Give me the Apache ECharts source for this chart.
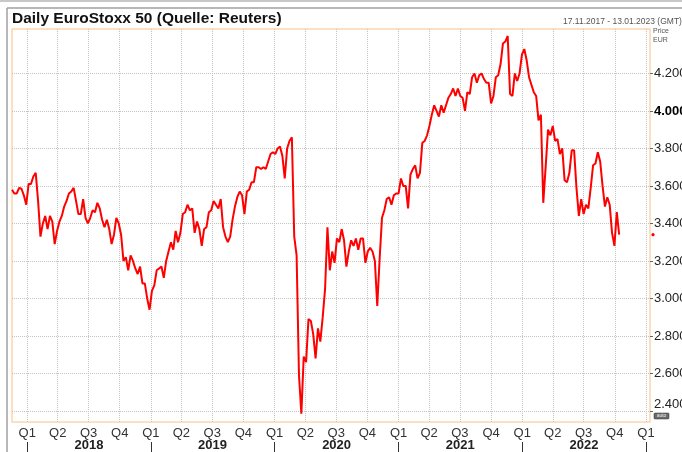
<!DOCTYPE html>
<html>
<head>
<meta charset="utf-8">
<script src="https://cdn.jsdelivr.net/npm/echarts@6/dist/echarts.min.js"></script>
<style>
  html, body { margin: 0; padding: 0; background: #fff; }
  #chart { width: 682px; height: 452px; }
</style>
</head>
<body>
<div id="chart"></div>
<script>
// weekly closes (Fridays), starting 17.11.2017
const v2017 = [3580, 3560, 3560, 3590, 3585, 3550, 3500]
const v2018 = [
    3610, 3610, 3650, 3670,         // jan
    3520, 3330, 3400, 3440,         // feb
    3370, 3440, 3410, 3290, 3360,   // mar
    3410, 3440, 3490, 3520,         // apr
    3560, 3570, 3590, 3520,         // may
    3450, 3450, 3530, 3430, 3400,   // jun
    3430, 3470, 3460, 3510,         // jul
    3480, 3420, 3380, 3420, 3370,   // aug
    3290, 3340, 3430, 3400,         // sep
    3340, 3200, 3220, 3150,         // oct
    3230, 3200, 3160, 3130, 3170,   // nov
    3080, 3080, 3000, 2940          // dec
]
const v2019 = [
    3040, 3070, 3150, 3160,
    3170, 3110, 3200, 3250,
    3300, 3260, 3360, 3300, 3350,
    3450, 3460, 3500, 3470,
    3480, 3350, 3410, 3370, 3280,
    3370, 3380, 3460, 3470,
    3520, 3500, 3480, 3530,
    3380, 3330, 3300, 3330, 3420,
    3490, 3540, 3570, 3550,
    3450, 3570, 3580, 3620,
    3620, 3700, 3700, 3690, 3700,
    3690, 3730, 3770, 3780
]
const v2020 = [
    3770, 3800, 3810, 3760, 3640,
    3800, 3840, 3860, 3330,
    3230, 2590, 2385, 2690,
    2660, 2890, 2880, 2810,
    2680, 2840, 2770, 2900, 3050,
    3380, 3150, 3250, 3190,
    3320, 3300, 3370, 3310, 3170,
    3250, 3310, 3280, 3320,
    3260, 3320, 3320, 3190,
    3250, 3270, 3250, 3200, 2960,
    3210, 3430, 3470, 3530,
    3540, 3500, 3550, 3560
]
const v2021 = [
    3560, 3640, 3600, 3600, 3480,
    3660, 3690, 3710, 3640,
    3670, 3830, 3840, 3870,
    3920, 3980, 4030, 4000, 3970,
    4030, 3990, 4030, 4070,
    4090, 4120, 4080, 4120,
    4080, 4070, 4000, 4100, 4090,
    4180, 4200, 4150, 4190,
    4200, 4170, 4150, 4150,
    4040, 4080, 4180, 4190, 4250,
    4360, 4370, 4400, 4090,
    4080, 4200, 4160, 4200, 4300
]
const v2022 = [
    4330, 4270, 4180, 4140,
    4100, 4080, 3950, 3980,
    3510, 3700, 3900, 3870,
    3920, 3840, 3850, 3770, 3800,
    3630, 3620, 3670, 3790,
    3790, 3590, 3440, 3530,
    3450, 3500, 3480, 3590, 3710,
    3720, 3780, 3730, 3600,
    3490, 3540, 3500, 3350, 3280,
    3460, 3340
]

const years = [2018, 2019, 2020, 2021, 2022]
const quarterNames = ["Q1", "Q2", "Q3", "Q4"]
const priceTicks = [2400, 2600, 2800, 3000, 3200, 3400, 3600, 3800, 4000, 4200]

const DAY = 24 * 3600 * 1000
const firstDay = Date.UTC(2017, 10, 17)
const lastDay = Date.UTC(2023, 0, 13)

const closes = [].concat(v2017, v2018, v2019, v2020, v2021, v2022)
const seriesData = closes.map((v, i) => [firstDay + i * 7 * DAY, v])

const quarterTicks = []
years.forEach(y => [0, 3, 6, 9].forEach(m => quarterTicks.push(Date.UTC(y, m, 1))))
quarterTicks.push(Date.UTC(2023, 0, 1))
const yearBounds = years.map(y => Date.UTC(y, 0, 1)).concat([Date.UTC(2023, 0, 1)])
const yearMids = years.map(y => Date.UTC(y, 6, 2))

const FONT = "'Liberation Sans', Arial, sans-serif"

const chart = echarts.init(document.getElementById("chart"))

chart.setOption({
    animation: false,
    backgroundColor: "#fff",
    title: {
        text: "Daily EuroStoxx 50 (Quelle: Reuters)",
        left: 7,
        top: 6,
        textStyle: { fontFamily: FONT, fontSize: 15.5, fontWeight: "bold", color: "#111" }
    },
    grid: {
        left: 12, right: 32, top: 29, bottom: 30,
        outerBoundsMode: "none",
        show: true, borderColor: "#fdd6ae", borderWidth: 1.5, backgroundColor: "#fff"
    },
    xAxis: [
        {
            // dates as plain timestamps on a value axis
            type: "value", min: firstDay, max: lastDay,
            axisLine: { show: false },
            axisTick: { show: false, customValues: quarterTicks },
            splitLine: { show: true, lineStyle: { type: "dotted", color: "#c4c4c4", width: 1 } },
            axisLabel: {
                customValues: quarterTicks,
                margin: 5,
                fontFamily: FONT, fontSize: 13, color: "#333",
                formatter: v => quarterNames[Math.floor(new Date(v).getUTCMonth() / 3)]
            }
        },
        {
            type: "value", min: firstDay, max: lastDay,
            position: "bottom", offset: 20,
            axisLine: { show: false },
            axisTick: { show: true, customValues: yearBounds, length: 12, lineStyle: { color: "#333", width: 1 } },
            splitLine: { show: false },
            axisLabel: {
                customValues: yearMids,
                margin: -3,
                fontFamily: FONT, fontSize: 13, fontWeight: "bold", color: "#222",
                formatter: v => String(new Date(v).getUTCFullYear())
            }
        }
    ],
    yAxis: {
        type: "value", position: "right",
        min: 2341, max: 4437,
        axisLine: { show: false },
        axisTick: { show: true, inside: false, length: 3, customValues: priceTicks, lineStyle: { color: "#666" } },
        splitLine: { show: true, lineStyle: { type: "dotted", color: "#c4c4c4", width: 1 } },
        axisLabel: {
            customValues: priceTicks,
            margin: 4,
            fontFamily: FONT, fontSize: 13, color: "#222",
            verticalAlignMinLabel: "bottom",
            formatter: v => {
                const s = (v / 1000).toFixed(3)
                return v === 4000 ? "{b|" + s + "}" : s
            },
            rich: { b: { fontFamily: FONT, fontSize: 13, fontWeight: "bold", color: "#000" } }
        }
    },
    series: [{
        type: "line",
        data: seriesData,
        showSymbol: false,
        lineStyle: { color: "#ff0000", width: 2 },
        itemStyle: { color: "#ff0000" }
    }]
})

// last price marker on the right edge, placed through the y scale
const lastY = chart.convertToPixel({ yAxisIndex: 0 }, closes[closes.length - 1])

chart.setOption({
    graphic: [
        { type: "rect", shape: { x: 0, y: 0, width: 682, height: 2 }, style: { fill: "#c8c8c8" } },
        { type: "line", shape: { x1: 7, y1: 8, x2: 682, y2: 8 }, style: { stroke: "#a0a0a0", lineWidth: 1.5 } },
        { type: "line", shape: { x1: 7, y1: 8, x2: 7, y2: 452 }, style: { stroke: "#a0a0a0", lineWidth: 1.5 } },
        { type: "text", x: 563, y: 22, style: { text: "17.11.2017 - 13.01.2023 (GMT)", font: "8.5px " + FONT, fill: "#555", verticalAlign: "middle" } },
        { type: "text", x: 653, y: 31, style: { text: "Price", font: "7px " + FONT, fill: "#555", verticalAlign: "middle" } },
        { type: "text", x: 653, y: 40, style: { text: "EUR", font: "7px " + FONT, fill: "#555", verticalAlign: "middle" } },
        { type: "rect", shape: { x: 654, y: 413, width: 15, height: 6, r: 1 }, style: { fill: "#6a6a6a", stroke: "#333", lineWidth: 0.5 } },
        { type: "text", x: 661.5, y: 416, style: { text: "auto", font: "5px " + FONT, fill: "#eee", align: "center", verticalAlign: "middle" } },
        { type: "circle", shape: { cx: 653, cy: lastY, r: 1.6 }, style: { fill: "#ff0000" } }
    ]
})

window.addEventListener("resize", () => chart.resize())
</script>
</body>
</html>
